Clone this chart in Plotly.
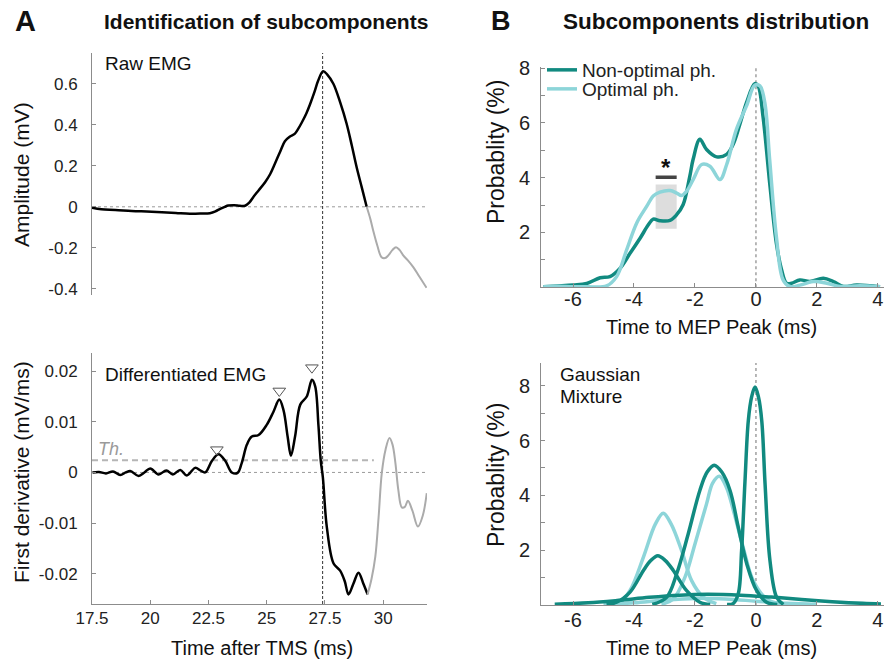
import plotly.graph_objects as go

W, H = 884, 662

# ---------------- Panel A data ----------------
raw_t_main = [17.5, 17.9, 18.5, 19.2, 19.85, 20.5, 21.1, 21.7, 22.2, 22.56, 22.8, 23.0, 23.2, 23.35,
              23.6, 23.85, 24.07, 24.25, 24.42, 24.65, 24.93, 25.15, 25.35, 25.58, 25.78, 26.0, 26.2,
              26.35, 26.5, 26.7, 26.86, 27.05, 27.21, 27.42, 27.6, 27.86, 28.15, 28.43, 28.65, 28.86,
              29.08, 29.29]
raw_v_main = [-0.005, -0.012, -0.015, -0.02, -0.023, -0.026, -0.03, -0.034, -0.033, -0.031, -0.022,
              -0.01, 0.0, 0.006, 0.008, 0.005, 0.005, 0.02, 0.047, 0.08, 0.12, 0.16, 0.21, 0.27, 0.32,
              0.343, 0.356, 0.38, 0.41, 0.455, 0.50, 0.56, 0.616, 0.661, 0.645, 0.60, 0.51, 0.405,
              0.30, 0.193, 0.095, 0.0]
raw_t_tail = [29.29, 29.45, 29.57, 29.75, 29.93, 30.08, 30.22, 30.4, 30.55, 30.7, 30.86, 31.05,
              31.29, 31.55, 31.86]
raw_v_tail = [0.0, -0.06, -0.116, -0.19, -0.246, -0.25, -0.237, -0.21, -0.197, -0.21, -0.237,
              -0.26, -0.294, -0.34, -0.395]

diff_t_main = [17.52, 17.8, 18.1, 18.4, 18.71, 18.95, 19.14, 19.5, 19.75, 20.0, 20.36, 20.69, 20.97,
               21.29, 21.57, 21.93, 22.15, 22.36, 22.65, 22.93, 23.22, 23.5, 23.75, 23.93, 24.15,
               24.36, 24.65, 25.0, 25.29, 25.54, 25.72, 25.9, 26.04, 26.22, 26.44, 26.72, 26.94,
               27.08, 27.22, 27.32, 27.41, 27.58, 27.87, 28.15, 28.35, 28.51, 28.72, 28.94, 29.15,
               29.33]
diff_v_main = [0.0, 0.0001, -0.0002, 0.0002, -0.0005, 0.0, 0.0003, -0.0007, 0.0, 0.0008, -0.0004,
               0.0004, -0.0004, 0.0005, -0.0006, 0.0009, 0.0004, 0.0, 0.0023, 0.0036, 0.0023, 0.0,
               -0.0001, 0.0019, 0.0055, 0.0071, 0.0074, 0.0094, 0.012, 0.0144, 0.0123, 0.007,
               0.0033, 0.0072, 0.0134, 0.0150, 0.0183, 0.017, 0.0093, 0.0023, -0.0010, -0.0108,
               -0.0180, -0.0194, -0.0215, -0.0241, -0.022, -0.0198, -0.022, -0.0241]
diff_t_tail = [29.33, 29.5, 29.66, 29.8, 29.94, 30.1, 30.27, 30.4, 30.52, 30.65, 30.8, 30.93, 31.06,
               31.25, 31.49, 31.7, 31.87]
diff_v_tail = [-0.0241, -0.021, -0.0167, -0.009, -0.0001, 0.0045, 0.0068, 0.0055, 0.0020, -0.0035,
               -0.0069, -0.0068, -0.0056, -0.0075, -0.0107, -0.0085, -0.0041]

threshold_level = 0.0024
threshold_span = [17.5, 29.6]
peak_marker_t = [22.86, 25.54, 26.94]
peak_marker_v = [0.0045, 0.0161, 0.0207]
mep_peak_time = 27.4

a_x_ticks = [17.5, 20, 22.5, 25, 27.5, 30]
a_x_labels = ["17.5", "20", "22.5", "25", "27.5", "30"]
raw_y_ticks = [-0.4, -0.2, 0, 0.2, 0.4, 0.6]
raw_y_labels = ["-0.4", "-0.2", "0", "0.2", "0.4", "0.6"]
diff_y_ticks = [-0.02, -0.01, 0, 0.01, 0.02]
diff_y_labels = ["-0.02", "-0.01", "0", "0.01", "0.02"]

# ---------------- Panel B data ----------------
kde_x_nonopt = [-6.97, -5.99, -5.55, -5.11, -4.79, -4.46, -4.13, -3.80, -3.53, -3.37, -3.15, -2.82,
                -2.60, -2.39, -2.17, -2.06, -1.84, -1.62, -1.29, -0.96, -0.75, -0.53, -0.31, -0.04,
                0.07, 0.23, 0.45, 0.67, 0.84, 1.0, 1.17, 1.44, 1.77, 2.21, 2.54, 2.87, 3.30, 4.07]
kde_y_nonopt = [0.02, 0.08, 0.14, 0.35, 0.39, 0.69, 1.24, 1.79, 2.28, 2.49, 2.43, 2.44, 2.65, 3.01,
                4.05, 4.67, 5.40, 5.03, 4.76, 4.85, 5.21, 5.94, 6.74, 7.43, 7.35, 6.25, 3.81, 1.61,
                0.64, 0.15, 0.15, 0.27, 0.21, 0.33, 0.21, 0.03, 0.08, 0.02]
kde_x_opt = [-6.97, -6.53, -5.99, -5.55, -4.90, -4.57, -4.24, -3.91, -3.58, -3.37, -3.15, -2.82,
             -2.60, -2.44, -2.27, -2.06, -1.78, -1.51, -1.18, -0.96, -0.64, -0.31, -0.04, 0.13,
             0.29, 0.45, 0.67, 0.89, 1.11, 1.44, 1.88, 2.32, 2.76, 3.41, 4.07]
kde_y_opt = [0.02, 0.04, 0.02, 0.02, 0.05, 0.39, 1.37, 2.35, 2.96, 3.33, 3.47, 3.53, 3.44, 3.35,
             3.51, 3.93, 4.48, 4.42, 3.93, 4.48, 5.76, 6.62, 7.37, 7.35, 6.74, 4.66, 1.85, 0.27,
             0.03, 0.08, 0.21, 0.15, 0.03, 0.06, 0.02]
sig_window = [-3.29, -2.60]
sig_box = [2.14, 3.75]
sig_bar = 4.02
star_y = 4.38

b_x_ticks = [-6, -4, -2, 0, 2, 4]
b_x_labels = ["-6", "-4", "-2", "0", "2", "4"]
b_y_ticks = [1, 2, 3, 4, 5, 6, 7, 8]
b_y_labels = ["", "2", "", "4", "", "6", "", "8"]

# Gaussian mixture components
gmm_nonopt = [
    ([-4.9, -4.57, -4.13, -3.69, -3.45, -3.22, -2.97, -2.71, -2.28, -1.84, -1.5],
     [0.02, 0.1, 0.47, 1.26, 1.62, 1.8, 1.62, 1.26, 0.53, 0.1, 0.02]),
    ([-3.4, -2.93, -2.6, -2.22, -1.84, -1.6, -1.37, -1.12, -0.85, -0.58, -0.30, 0.02, 0.35, 0.7],
     [0.02, 0.28, 1.14, 2.6, 4.18, 4.85, 5.1, 4.85, 4.18, 2.84, 1.5, 0.53, 0.1, 0.02]),
    ([-0.95, -0.75, -0.58, -0.47, -0.36, -0.25, -0.14, -0.03, 0.08, 0.19, 0.3, 0.46, 0.68, 0.9],
     [0.02, 0.05, 0.41, 1.99, 4.5, 6.73, 7.6, 7.95, 7.6, 6.73, 4.4, 1.62, 0.28, 0.02]),
    ([-6.6, -5.5, -4.5, -3.5, -2.5, -1.6, -0.5, 0.5, 1.5, 2.5, 3.5, 4.1],
     [0.03, 0.08, 0.17, 0.28, 0.36, 0.39, 0.36, 0.29, 0.2, 0.12, 0.06, 0.04]),
]
gmm_opt = [
    ([-4.8, -4.46, -4.13, -3.69, -3.3, -3.04, -2.78, -2.44, -2.11, -1.73, -1.3],
     [0.02, 0.1, 0.53, 1.75, 2.95, 3.35, 2.95, 1.99, 0.89, 0.29, 0.05]),
    ([-3.1, -2.71, -2.33, -2.0, -1.62, -1.42, -1.2, -0.97, -0.74, -0.42, -0.09, 0.35, 0.79],
     [0.03, 0.22, 1.01, 2.23, 3.69, 4.45, 4.7, 4.3, 3.45, 2.11, 0.89, 0.22, 0.03]),
    ([-5.0, -4.0, -3.0, -2.0, -1.0, 0.0, 1.0, 2.0],
     [0.02, 0.08, 0.18, 0.24, 0.22, 0.14, 0.06, 0.02]),
]

# ---------------- styling ----------------
DARK = "#118a80"
LIGHT = "#8dd5d9"
GREY = "#ababab"
AXC = "#8c8c8c"
FONT = "Liberation Sans, Arial, sans-serif"


def px(X):
    return X / W


def py(Y):
    return 1 - Y / H


fig = go.Figure()

# Panel A top: raw EMG
fig.add_trace(go.Scatter(x=raw_t_main, y=raw_v_main, mode="lines", line=dict(color="black", width=2.5, shape="spline"),
                         xaxis="x", yaxis="y", showlegend=False))
fig.add_trace(go.Scatter(x=raw_t_tail, y=raw_v_tail, mode="lines", line=dict(color=GREY, width=2, shape="spline"),
                         xaxis="x", yaxis="y", showlegend=False))

# Panel A bottom: differentiated EMG
fig.add_trace(go.Scatter(x=threshold_span, y=[threshold_level, threshold_level], mode="lines",
                         line=dict(color="#b5b5b5", width=2, dash="6px,4px"), xaxis="x2", yaxis="y2", showlegend=False))
fig.add_trace(go.Scatter(x=diff_t_main, y=diff_v_main, mode="lines", line=dict(color="black", width=2.5, shape="spline"),
                         xaxis="x2", yaxis="y2", showlegend=False))
fig.add_trace(go.Scatter(x=diff_t_tail, y=diff_v_tail, mode="lines", line=dict(color=GREY, width=2, shape="spline"),
                         xaxis="x2", yaxis="y2", showlegend=False))
fig.add_trace(go.Scatter(x=peak_marker_t, y=peak_marker_v, mode="markers",
                         marker=dict(symbol="triangle-down-open", size=11, color="#555555", line=dict(width=1)),
                         xaxis="x2", yaxis="y2", showlegend=False, cliponaxis=False))

# Panel B top: distributions
fig.add_trace(go.Scatter(x=sig_window, y=[sig_bar, sig_bar], mode="lines", line=dict(color="#444444", width=3.5),
                         xaxis="x3", yaxis="y3", showlegend=False))
fig.add_trace(go.Scatter(x=kde_x_nonopt, y=kde_y_nonopt, mode="lines", name="Non-optimal ph.",
                         line=dict(color=DARK, width=3.5, shape="spline"), xaxis="x3", yaxis="y3", legend="legend"))
fig.add_trace(go.Scatter(x=kde_x_opt, y=kde_y_opt, mode="lines", name="Optimal ph.",
                         line=dict(color=LIGHT, width=3.5, shape="spline"), xaxis="x3", yaxis="y3", legend="legend2"))

# Panel B bottom: gaussian mixture components
for gx, gy in gmm_opt:
    fig.add_trace(go.Scatter(x=gx, y=gy, mode="lines", line=dict(color=LIGHT, width=3.5, shape="spline"),
                             xaxis="x4", yaxis="y4", showlegend=False))
for gx, gy in gmm_nonopt:
    fig.add_trace(go.Scatter(x=gx, y=gy, mode="lines", line=dict(color=DARK, width=3.5, shape="spline"),
                             xaxis="x4", yaxis="y4", showlegend=False))

AX = dict(showgrid=False, zeroline=False, showline=True, linecolor=AXC, linewidth=1, ticks="inside",
          ticklen=4, tickcolor=AXC, fixedrange=True, automargin=False)
fa = dict(size=17, color="#222222", family=FONT)
fb = dict(size=20, color="#222222", family=FONT)

fig.update_layout(
    width=W, height=H, margin=dict(l=0, r=0, t=0, b=0, pad=0), autosize=False,
    paper_bgcolor="white", plot_bgcolor="white",
    font=dict(family=FONT, color="#222222"),
    xaxis=dict(AX, domain=[px(92), px(427)], range=[17.5, 31.88], anchor="y", showline=False, ticks="",
               showticklabels=False),
    yaxis=dict(AX, domain=[py(295), py(53)], range=[-0.43, 0.75], anchor="x", tickvals=raw_y_ticks,
               ticktext=raw_y_labels, tickfont=fa, ticklabelstandoff=10),
    xaxis2=dict(AX, domain=[px(92), px(427)], range=[17.5, 31.88], anchor="y2", tickvals=a_x_ticks,
                ticktext=a_x_labels, tickfont=fa, ticklabelstandoff=-1),
    yaxis2=dict(AX, domain=[py(604), py(353)], range=[-0.026, 0.0236], anchor="x2", tickvals=diff_y_ticks,
                ticktext=diff_y_labels, tickfont=fa, ticklabelstandoff=10),
    xaxis3=dict(AX, domain=[px(541), 1.0], range=[-7.05, 4.2], anchor="y3", tickvals=b_x_ticks,
                ticktext=b_x_labels, tickfont=fb, ticklabelstandoff=-6),
    yaxis3=dict(AX, domain=[py(287.3), py(66.7)], range=[0, 8.05], anchor="x3", tickvals=b_y_ticks,
                ticktext=b_y_labels, tickfont=fb, ticklabelstandoff=6),
    xaxis4=dict(AX, domain=[px(541), 1.0], range=[-7.05, 4.2], anchor="y4", tickvals=b_x_ticks,
                ticktext=b_x_labels, tickfont=fb, ticklabelstandoff=-3),
    yaxis4=dict(AX, domain=[py(605), py(363)], range=[0, 8.83], anchor="x4", tickvals=b_y_ticks,
                ticktext=b_y_labels, tickfont=fb, ticklabelstandoff=6),
    legend=dict(x=px(542), y=py(51), xanchor="left", yanchor="top", bgcolor="rgba(0,0,0,0)",
                font=dict(size=19, color="#222222", family=FONT), borderwidth=0),
    legend2=dict(x=px(542), y=py(70), xanchor="left", yanchor="top", bgcolor="rgba(0,0,0,0)",
                 font=dict(size=19, color="#222222", family=FONT), borderwidth=0),
)

shapes = [
    dict(type="line", xref="x domain", yref="y", x0=0, x1=1, y0=0, y1=0, line=dict(color="#9a9a9a", width=1, dash="dot"), layer="below"),
    dict(type="line", xref="x2 domain", yref="y2", x0=0, x1=1, y0=0, y1=0, line=dict(color="#9a9a9a", width=1, dash="dot"), layer="below"),
    dict(type="line", xref="x", yref="paper", x0=mep_peak_time, x1=mep_peak_time, y0=py(604), y1=py(53),
         line=dict(color="#333333", width=1, dash="3px,2px"), layer="below"),
    dict(type="line", xref="x3", yref="y3 domain", x0=0, x1=0, y0=0, y1=1, line=dict(color="#a0a0a0", width=1.5, dash="dot"), layer="below"),
    dict(type="line", xref="x4", yref="y4 domain", x0=0, x1=0, y0=0, y1=1, line=dict(color="#a0a0a0", width=1.5, dash="dot"), layer="below"),
    dict(type="rect", xref="x3", yref="y3", x0=sig_window[0], x1=sig_window[1], y0=sig_box[0], y1=sig_box[1],
         fillcolor="#dddddd", line=dict(width=0), layer="below"),
]
fig.update_layout(shapes=shapes)

ann = []


def text(X, Y, s, size, xanchor="center", bold=False, angle=0, color="#111111"):
    if bold:
        s = "<b>" + s + "</b>"
    ann.append(dict(x=px(X), y=py(Y), xref="paper", yref="paper", text=s, showarrow=False,
                    xanchor=xanchor, yanchor="middle", textangle=angle,
                    font=dict(size=size, color=color, family=FONT)))


text(25, 21, "A", 29, bold=True)
text(266, 21, "Identification of subcomponents", 21, bold=True)
text(501, 21, "B", 27, bold=True)
text(716, 21, "Subcomponents distribution", 22.5, bold=True)
text(103, 64, "Raw EMG", 19, xanchor="left")
text(103, 374, "Differentiated EMG", 19, xanchor="left")
text(96, 449, "<i>Th.</i>", 18, xanchor="left", color="#9a9a9a")
text(558, 374, "Gaussian", 19, xanchor="left")
text(558, 397, "Mixture", 19, xanchor="left")
text(22, 175, "Amplitude (mV)", 21, angle=-90)
text(22, 472, "First derivative (mV/ms)", 21, angle=-90)
text(262, 648, "Time after TMS (ms)", 20)
text(496, 152, "Probablity (%)", 23, angle=-90)
text(496, 475, "Probablity (%)", 23, angle=-90)
text(711, 327, "Time to MEP Peak (ms)", 20)
text(711, 648, "Time to MEP Peak (ms)", 20)

ann.append(dict(x=sum(sig_window) / 2, y=star_y, xref="x3", yref="y3", text="<b>*</b>", showarrow=False,
                xanchor="center", yanchor="middle", font=dict(size=24, color="#111111", family=FONT)))
fig.update_layout(annotations=ann)

fig.write_html("out.html", config={"displayModeBar": False},
               post_script="document.body.style.margin='0px';")
